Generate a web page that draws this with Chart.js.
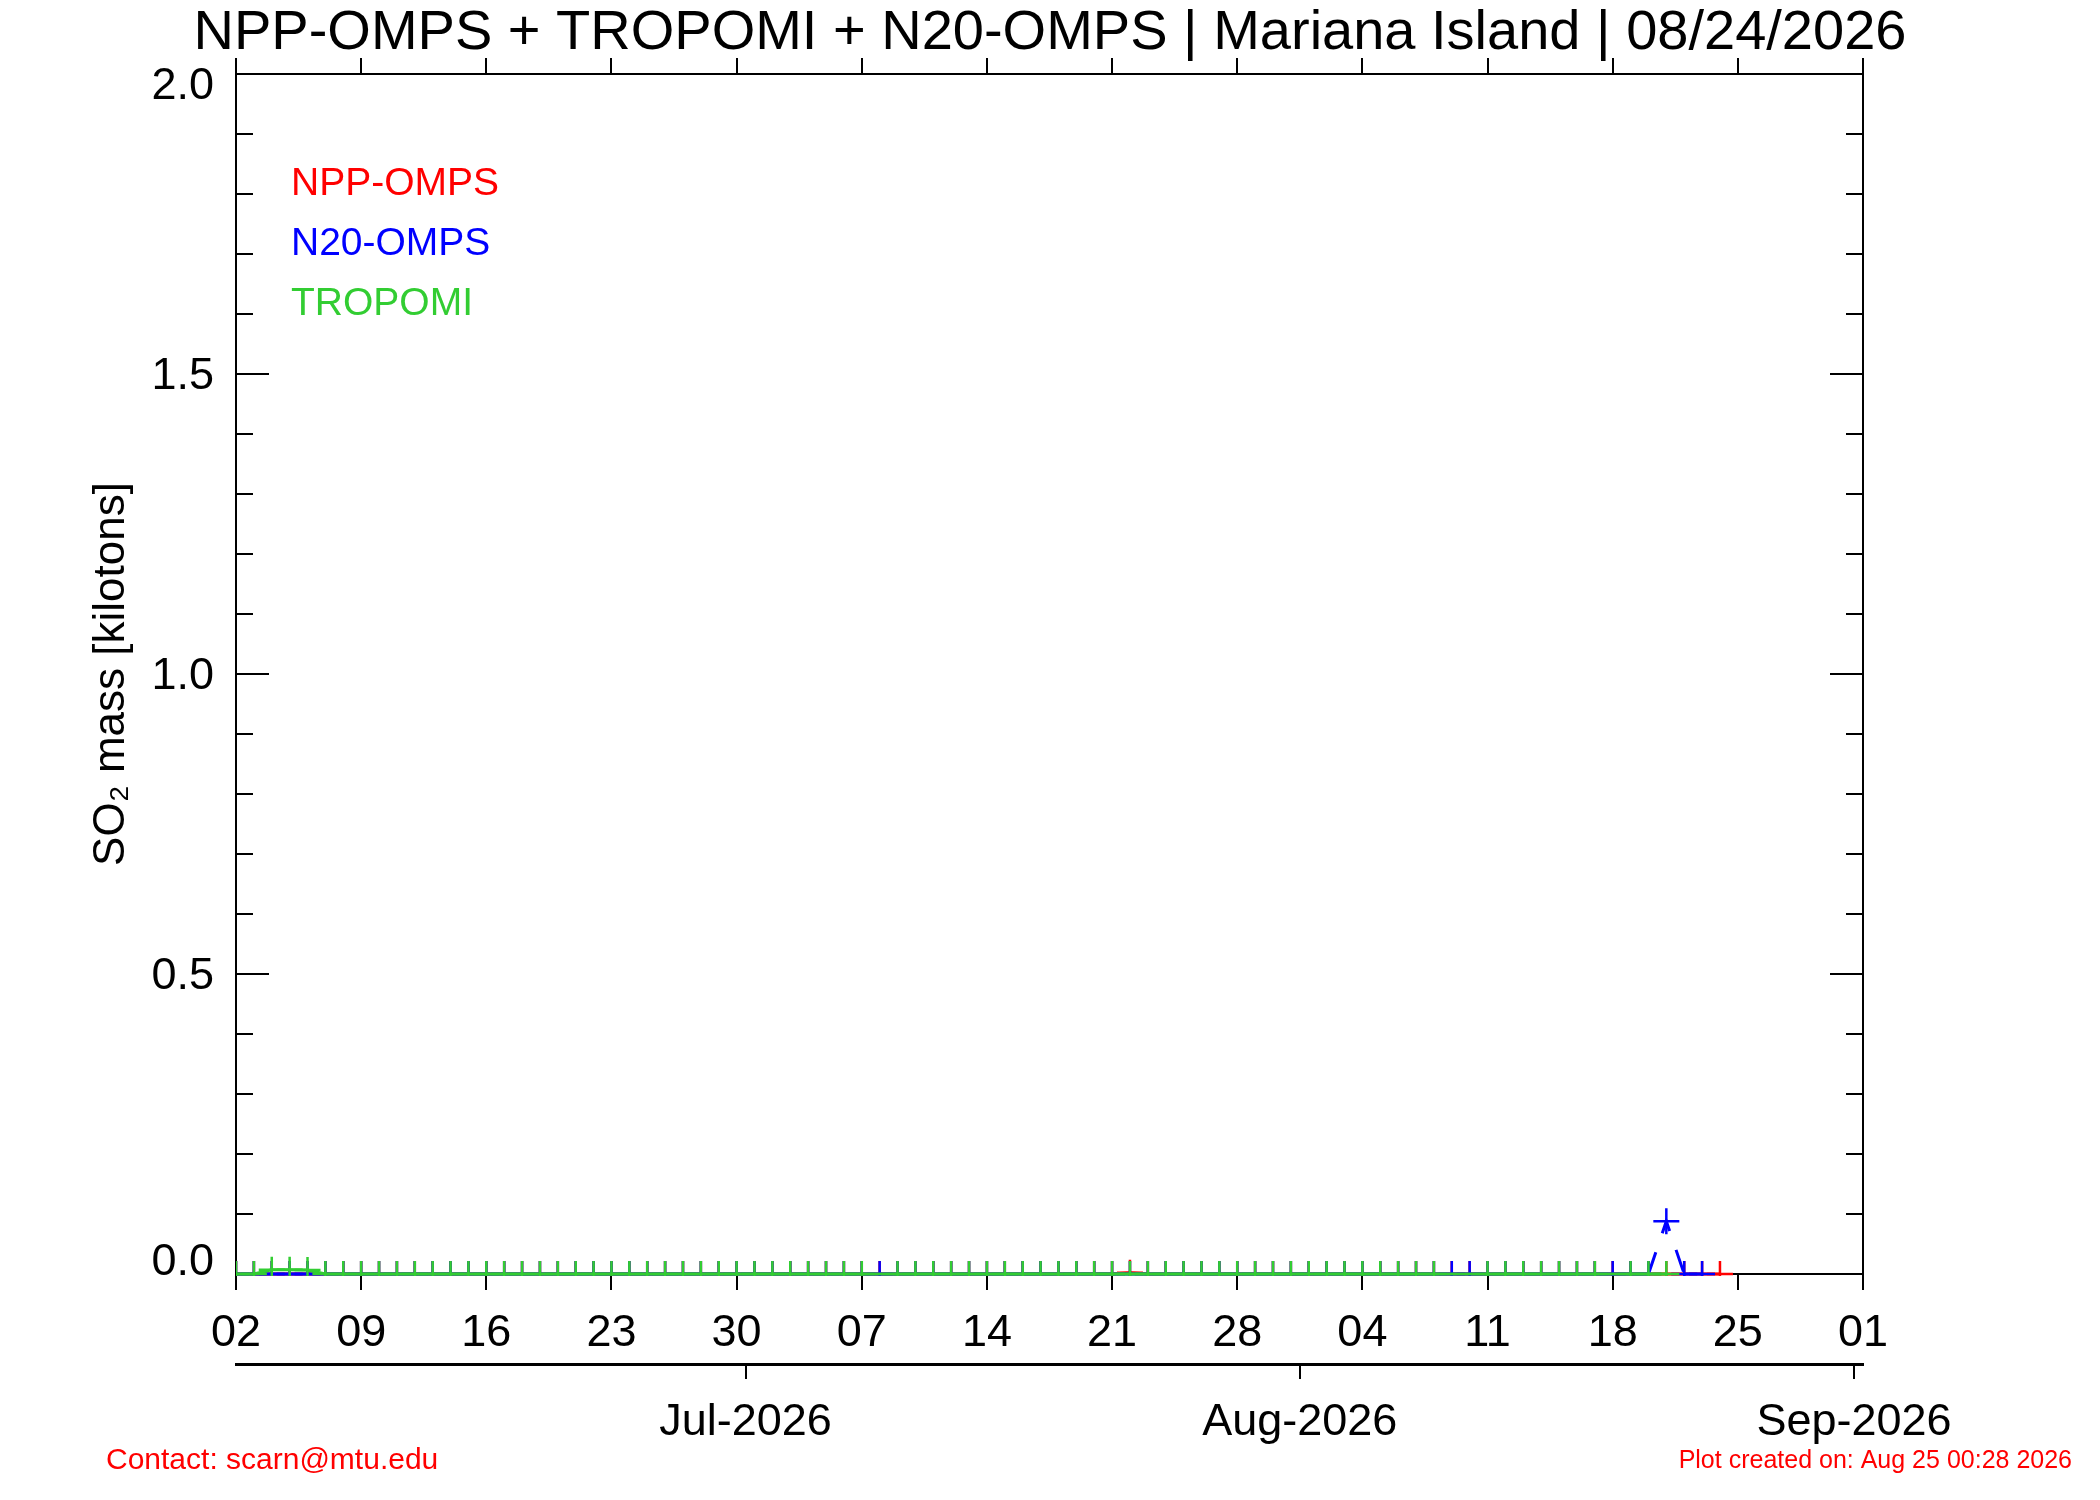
<!DOCTYPE html>
<html>
<head>
<meta charset="utf-8">
<title>SO2 mass - Mariana Island</title>
<script src="https://cdn.jsdelivr.net/npm/chart.js@4/dist/chart.umd.min.js"></script>
<style>
  html, body { margin: 0; padding: 0; background: #fff; }
  canvas { display: block; }
</style>
</head>
<body>
<canvas id="myChart" width="2100" height="1500"></canvas>
<script>
// observation dates (daily)
var dates = [
  '2026-06-02','2026-06-03','2026-06-04','2026-06-05','2026-06-06','2026-06-07','2026-06-08','2026-06-09','2026-06-10','2026-06-11',
  '2026-06-12','2026-06-13','2026-06-14','2026-06-15','2026-06-16','2026-06-17','2026-06-18','2026-06-19','2026-06-20','2026-06-21',
  '2026-06-22','2026-06-23','2026-06-24','2026-06-25','2026-06-26','2026-06-27','2026-06-28','2026-06-29','2026-06-30','2026-07-01',
  '2026-07-02','2026-07-03','2026-07-04','2026-07-05','2026-07-06','2026-07-07','2026-07-08','2026-07-09','2026-07-10','2026-07-11',
  '2026-07-12','2026-07-13','2026-07-14','2026-07-15','2026-07-16','2026-07-17','2026-07-18','2026-07-19','2026-07-20','2026-07-21',
  '2026-07-22','2026-07-23','2026-07-24','2026-07-25','2026-07-26','2026-07-27','2026-07-28','2026-07-29','2026-07-30','2026-07-31',
  '2026-08-01','2026-08-02','2026-08-03','2026-08-04','2026-08-05','2026-08-06','2026-08-07','2026-08-08','2026-08-09','2026-08-10',
  '2026-08-11','2026-08-12','2026-08-13','2026-08-14','2026-08-15','2026-08-16','2026-08-17','2026-08-18','2026-08-19','2026-08-20',
  '2026-08-21','2026-08-22','2026-08-23','2026-08-24'
];

// SO2 mass in kilotons, one value per date (null = no retrieval)
var nppOmps = [
  0,0,0,0,0,0,0,0,0,0,
  0,0,0,0,0,0,0,0,0,0,
  0,0,0,0,0,0,0,0,0,0,
  0,0,0,0,0,0,0,0,0,0,
  0,0,0,0,0,0,0,0,0,0,
  0.002,0,0,0,0,0,0,0,0,0,
  0,0,0,0,0,0,0,0,0,0,
  0,0,0,0,0,0,0,0,0,0,
  0,0,0,0
];
var n20Omps = [
  0,0,0,0,0,0,0,0,0,0,
  0,0,0,0,0,0,0,0,0,0,
  0,0,0,0,0,0,0,0,0,0,
  0,0,0,0,0,0,0,0,0,0,
  0,0,0,0,0,0,0,0,0,0,
  0,0,0,0,0,0,0,0,0,0,
  0,0,0,0,0,0,0,0,0,0,
  0,0,0,0,0,0,0,0,0,0,
  0.088,0,0,null
];
var tropomi = [
  0,0,0.007,0.007,0.0065,0,0,0,0,0,
  0,0,0,0,0,0,0,0,0,0,
  0,0,0,0,0,0,0,0,0,0,
  0,0,0,0,0,0,null,0,0,0,
  0,0,0,0,0,0,0,0,0,0,
  0,0,0,0,0,0,0,0,0,0,
  0,0,0,0,0,0,0,0,null,null,
  0,0,0,0,0,0,0,null,0,0,
  0,null,null,null
];

// axis labels
var axisStart = '2026-06-02';
var axisEnd = '2026-09-01';
var dayTickLabels = ['02','09','16','23','30','07','14','21','28','04','11','18','25','01'];
var monthTicks = ['2026-07-01','2026-08-01','2026-09-01'];
var monthLabels = ['Jul-2026','Aug-2026','Sep-2026'];
var seriesNames = ['NPP-OMPS','N20-OMPS','TROPOMI'];
var seriesColors = ['rgb(255,0,0)','rgb(0,0,255)','rgb(50,205,50)'];

function dayOf(s) {
  var p = s.split('-');
  var a = axisStart.split('-');
  return (Date.UTC(+p[0], p[1] - 1, +p[2]) - Date.UTC(+a[0], a[1] - 1, +a[2])) / 86400000;
}

function points(values) {
  return values.map(function (v, i) { return { x: dayOf(dates[i]), y: v }; });
}

function isMajor(v) {
  return Math.abs(v * 2 - Math.round(v * 2)) < 1e-6;
}

var FONT = "'Liberation Sans', Arial, Helvetica, sans-serif";
Chart.defaults.font.family = FONT;
Chart.defaults.color = '#000';

function series(name, values, color, order, dashed) {
  return {
    label: name,
    data: points(values),
    borderColor: color,
    backgroundColor: color,
    pointBorderColor: color,
    borderWidth: 3,
    pointStyle: 'cross',
    pointRadius: 13,
    pointBorderWidth: 2.5,
    spanGaps: true,
    tension: 0,
    order: order,
    clip: { left: 0, top: 0, right: 0, bottom: 2 },
    segment: dashed ? {
      borderDash: function (c) { return c.p0.parsed.y !== c.p1.parsed.y ? [23, 20] : undefined; }
    } : {}
  };
}

// frame, inward y ticks, top ticks, legend and footer text
var frameTicks = {
  id: 'frameTicks',
  beforeDatasetsDraw: function (chart) {
    var ctx = chart.ctx, a = chart.chartArea, x = chart.scales.x, y = chart.scales.y;
    ctx.save();
    ctx.strokeStyle = '#000';
    ctx.lineWidth = 2;
    ctx.beginPath();
    ctx.moveTo(a.left, a.top);
    ctx.lineTo(a.right, a.top);
    ctx.lineTo(a.right, a.bottom);
    y.ticks.forEach(function (t) {
      var py = Math.round(y.getPixelForValue(t.value));
      var len = isMajor(t.value) ? 33 : 17;
      ctx.moveTo(a.left, py); ctx.lineTo(a.left + len, py);
      ctx.moveTo(a.right, py); ctx.lineTo(a.right - len, py);
    });
    x.ticks.forEach(function (t) {
      var px = Math.round(x.getPixelForValue(t.value));
      ctx.moveTo(px, a.top); ctx.lineTo(px, a.top - 16);
    });
    ctx.stroke();
    ctx.restore();
  },
  afterDraw: function (chart) {
    var ctx = chart.ctx, a = chart.chartArea;
    ctx.save();
    ctx.textBaseline = 'middle';
    ctx.textAlign = 'left';
    ctx.font = '39px ' + FONT;
    seriesNames.forEach(function (n, i) {
      ctx.fillStyle = seriesColors[i];
      ctx.fillText(n, a.left + 55, 184 + i * 60);
    });
    ctx.fillStyle = 'rgb(255,0,0)';
    ctx.font = '30px ' + FONT;
    ctx.fillText('Contact: scarn@mtu.edu', 106, 1461);
    ctx.textAlign = 'right';
    ctx.font = '25px ' + FONT;
    ctx.fillText('Plot created on: Aug 25 00:28 2026', 2072, 1461);
    ctx.restore();
  }
};

const config = {
  type: 'line',
  data: {
    datasets: [
      series(seriesNames[2], tropomi, seriesColors[2], 0, false),
      series(seriesNames[1], n20Omps, seriesColors[1], 1, true),
      series(seriesNames[0], nppOmps, seriesColors[0], 2, false)
    ]
  },
  plugins: [frameTicks],
  options: {
    responsive: false,
    devicePixelRatio: 1,
    animation: false,
    events: [],
    layout: { padding: { left: 0, right: 0, top: 0, bottom: 36 } },
    plugins: {
      legend: { display: false },
      tooltip: { enabled: false },
      title: {
        display: true,
        text: 'NPP-OMPS + TROPOMI + N20-OMPS | Mariana Island | 08/24/2026',
        color: '#000',
        font: { size: 56, weight: 'normal' },
        padding: { top: 0, bottom: 6.8 }
      }
    },
    scales: {
      x: {
        type: 'linear',
        position: 'bottom',
        weight: 0,
        min: dayOf(axisStart),
        max: dayOf(axisEnd),
        grid: { display: true, drawOnChartArea: false, drawTicks: true, tickLength: 16, color: '#000', lineWidth: 2 },
        border: { display: true, color: '#000', width: 2 },
        ticks: {
          stepSize: 7,
          maxTicksLimit: 100,
          autoSkip: false,
          maxRotation: 0,
          padding: 17,
          font: { size: 45 },
          callback: function (v, i) { return dayTickLabels[i]; }
        },
        afterFit: function (s) { s.height = 90; }
      },
      x2: {
        type: 'linear',
        position: 'bottom',
        weight: 1,
        min: dayOf(axisStart),
        max: dayOf(axisEnd),
        grid: { display: true, drawOnChartArea: false, drawTicks: true, tickLength: 15, color: '#000', lineWidth: 2 },
        border: { display: true, color: '#000', width: 3 },
        ticks: {
          autoSkip: false,
          maxRotation: 0,
          padding: 17,
          font: { size: 45 },
          callback: function (v, i) { return monthLabels[i]; }
        },
        // month boundaries sit half a day early (Julian-day convention of the source plot)
        afterBuildTicks: function (s) {
          s.ticks = monthTicks.map(function (d) { return { value: dayOf(d) - 0.5 }; });
        },
        afterFit: function (s) { s.height = 100; }
      },
      y: {
        type: 'linear',
        position: 'left',
        min: 0,
        max: 2,
        grid: { display: false },
        border: { display: true, color: '#000', width: 2 },
        ticks: {
          stepSize: 0.1,
          maxTicksLimit: 100,
          autoSkip: false,
          padding: 14,
          labelOffset: 3,
          font: function (c) {
            var v = c.tick ? c.tick.value : 1;
            if (v === 0) return { size: 45, lineHeight: '28px' };
            if (v === 2) return { size: 45, lineHeight: '20px' };
            return { size: 45 };
          },
          callback: function (v) {
            if (!isMajor(v)) return '';
            if (v === 0) return [v.toFixed(1), ''];
            if (v === 2) return ['', v.toFixed(1)];
            return v.toFixed(1);
          }
        },
        title: {
          display: true,
          text: 'SO\u2082 mass [kilotons]',
          font: { size: 44 },
          color: '#000',
          padding: { top: 85, bottom: 0 }
        },
        afterFit: function (s) { s.width = 236; }
      },
      y2: {
        type: 'linear',
        position: 'right',
        min: 0,
        max: 2,
        grid: { display: false },
        border: { display: false },
        ticks: { display: false },
        afterFit: function (s) { s.width = 237; }
      }
    }
  }
};

var ctx = document.getElementById('myChart');
var myChart = new Chart(ctx, config);
</script>
</body>
</html>
